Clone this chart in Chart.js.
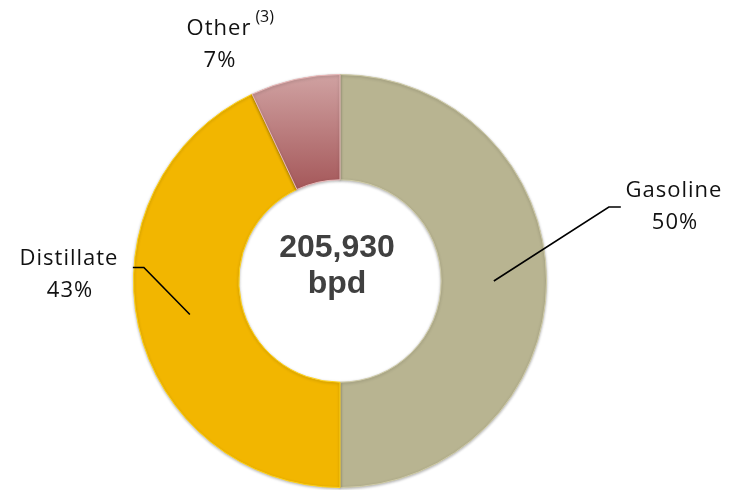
<!DOCTYPE html>
<html>
<head>
<meta charset="utf-8">
<script src="https://cdn.jsdelivr.net/npm/chart.js@4.4.1/dist/chart.umd.min.js"></script>
<style>
  html, body { margin: 0; padding: 0; background: #ffffff; }
  #wrap { width: 740px; height: 490px; position: relative; }
</style>
</head>
<body>
<div id="wrap"><canvas id="chart" width="740" height="490"></canvas></div>
<script>
// Datos del gráfico
const categories = ["Gasoline", "Distillate", "Other"];
const shares = [50, 43, 7];
const shareLabels = ["50%", "43%", "7%"];
const footnotes = ["", "", "(3)"];
const centerLines = ["205,930", "bpd"];

// Colores de cada sector
const sliceColors = ["#b8b491", "#f2b600", null];

// Posición de las etiquetas (centro del texto, línea base de la primera fila)
const labelLayout = [
    { x: 674, y: 197, elbow: { dx: 115, dy: -74, tail: 12 } },
    { x: 69, y: 265, elbow: { dx: -46, dy: -47, tail: -11 } },
    { x: 219, y: 35, elbow: null }
];

function otherGradient(context) {
    const area = context.chart.chartArea;
    if (!area) return "#b87474";
    const g = context.chart.ctx.createLinearGradient(0, area.top, 0, area.top + 115);
    g.addColorStop(0, "#d0a2a2");
    g.addColorStop(1, "#a5585a");
    return g;
}

// Plugin para etiquetas, líneas guía y texto central
const labelsPlugin = {
    id: "labelsPlugin",
    afterDatasetsDraw(chart) {
        const ctx = chart.ctx;
        const meta = chart.getDatasetMeta(0);
        ctx.save();

        // Líneas guía desde el centro de cada sector
        ctx.strokeStyle = "#000000";
        ctx.lineWidth = 1.6;
        meta.data.forEach((arc, i) => {
            const lay = labelLayout[i];
            if (!lay.elbow) return;
            const p = arc.tooltipPosition();
            const ex = p.x + lay.elbow.dx;
            const ey = p.y + lay.elbow.dy;
            ctx.beginPath();
            ctx.moveTo(p.x, p.y);
            ctx.lineTo(ex, ey);
            ctx.lineTo(ex + lay.elbow.tail, ey);
            ctx.stroke();
        });

        // Etiquetas de categoría y porcentaje
        ctx.fillStyle = "#111111";
        ctx.textAlign = "center";
        ctx.textBaseline = "alphabetic";
        categories.forEach((name, i) => {
            const lay = labelLayout[i];
            ctx.letterSpacing = "1px";
            ctx.font = "22px 'Open Sans'";
            ctx.fillText(name, lay.x, lay.y);
            ctx.fillText(shareLabels[i], lay.x + 1, lay.y + 32);
            if (footnotes[i]) {
                const w = ctx.measureText(name).width;
                ctx.letterSpacing = "0px";
                ctx.font = "16px 'Open Sans'";
                ctx.textAlign = "left";
                ctx.fillText(footnotes[i], lay.x + w / 2 + 4, lay.y - 13);
                ctx.textAlign = "center";
            }
        });

        // Texto central
        const cx = (chart.chartArea.left + chart.chartArea.right) / 2;
        const cy = (chart.chartArea.top + chart.chartArea.bottom) / 2;
        ctx.letterSpacing = "0px";
        ctx.fillStyle = "#404040";
        ctx.font = "bold 32px 'Liberation Sans', Arial, sans-serif";
        ctx.fillText(centerLines[0], cx - 3, cy - 24);
        ctx.fillText(centerLines[1], cx - 3, cy + 12);
        ctx.restore();
    }
};

const shadowPlugin = {
    id: "shadowPlugin",
    beforeDatasetsDraw(chart) {
        const ctx = chart.ctx;
        ctx.save();
        ctx.shadowColor = "rgba(0,0,0,0.28)";
        ctx.shadowBlur = 3;
        ctx.shadowOffsetX = 0;
        ctx.shadowOffsetY = 1;
    },
    afterDatasetsDraw(chart) {
        chart.ctx.restore();
    }
};

new Chart(document.getElementById("chart").getContext("2d"), {
    type: "doughnut",
    data: {
        labels: categories,
        datasets: [{
            data: shares,
            backgroundColor: (c) => sliceColors[c.dataIndex] || otherGradient(c),
            borderColor: ["#cfcba8", "#ffd21a", "#e8b8b8"],
            borderWidth: 1
        }]
    },
    options: {
        responsive: false,
        animation: false,
        cutout: "49%",
        layout: { padding: { left: 133, right: 193, top: 74, bottom: 2 } },
        plugins: {
            legend: { display: false },
            tooltip: { enabled: false }
        }
    },
    plugins: [shadowPlugin, labelsPlugin]
});
</script>
</body>
</html>
